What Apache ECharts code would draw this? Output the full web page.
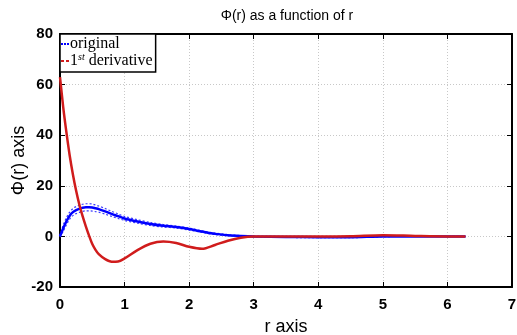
<!DOCTYPE html>
<html>
<head>
<meta charset="utf-8">
<script src="https://cdn.jsdelivr.net/npm/echarts@6/dist/echarts.min.js"></script>
<style>
  html, body { margin: 0; padding: 0; background: #fff; }
  #chart { width: 517px; height: 335px; }
</style>
</head>
<body>
<div id="chart"></div>
<script>
// r samples (x axis)
const rValues = [0, 0.05, 0.1, 0.15, 0.2, 0.25, 0.3, 0.35, 0.4, 0.45, 0.5, 0.55, 0.6, 0.7, 0.8, 0.9, 1.0, 1.2, 1.4, 1.6, 1.8, 2.0, 2.2, 2.4, 2.6, 2.8, 3.0, 3.5, 4.0, 4.5, 5.0, 5.5, 6.0, 6.28];

// Phi(r), the original
const original = [0, 3.2, 6, 8.2, 9.6, 10.4, 10.9, 11.3, 11.5, 11.5, 11.4, 11.1, 10.8, 9.9, 8.9, 8.0, 7.1, 5.9, 4.9, 4.2, 3.7, 2.9, 1.9, 1.0, 0.5, 0.2, 0, -0.2, -0.3, -0.3, 0, 0, 0, 0];
const originalUpper = [0.3, 4.5, 7.4, 9.6, 11, 11.8, 12.3, 12.7, 12.9, 12.9, 12.8, 12.4, 12.0, 11.0, 9.9, 8.9, 7.9, 6.6, 5.5, 4.7, 4.1, 3.3, 2.2, 1.3, 0.7, 0.3, 0.1, 0, 0, 0, 0.1, 0, 0, 0];
const originalLower = [-0.3, 2.0, 4.6, 6.8, 8.2, 9.0, 9.5, 9.9, 10.1, 10.1, 10.0, 9.8, 9.6, 8.8, 7.9, 7.1, 6.3, 5.2, 4.3, 3.7, 3.3, 2.5, 1.6, 0.7, 0.3, 0.1, -0.1, -0.4, -0.5, -0.5, -0.1, 0, 0, 0];

// first derivative
const derivative = [63, 51, 41, 32, 24.5, 18, 12.5, 8, 4, 0.3, -3, -5.3, -7.0, -9.0, -10, -9.9, -8.7, -5.4, -2.9, -2.0, -2.6, -4.1, -4.9, -3.4, -1.7, -0.5, 0, 0, 0, 0.1, 0.5, 0.2, 0, 0];

const xTicks = [0, 1, 2, 3, 4, 5, 6, 7];
const yTicks = [-20, 0, 20, 40, 60, 80];

const pairs = ys => rValues.map((r, i) => [r, ys[i]]);

const chart = echarts.init(document.getElementById('chart'));

const sans = 'Liberation Sans, Arial, sans-serif';
const serif = 'Liberation Serif, Times New Roman, serif';
const labelFont = { color: '#000', fontFamily: sans, fontWeight: 'bold', fontSize: 15 };
const gridLine = { show: true, lineStyle: { color: '#c8c8c8', type: [1, 2], width: 1 } };
const frame = { show: true, onZero: false, lineStyle: { color: '#000', width: 2 } };
const tick = { show: true, inside: true, length: 5, lineStyle: { color: '#000', width: 1 } };

const option = {
  animation: false,
  title: {
    text: 'Φ(r) as a function of r',
    left: 282, top: 4, textAlign: 'center',
    textStyle: { fontFamily: sans, fontWeight: 'normal', fontSize: 14, color: '#000' }
  },
  grid: { left: 60, right: 5, top: 34, bottom: 48, containLabel: false, outerBoundsMode: 'none' },
  legend: {
    data: [
      { name: 'original', icon: 'path://M0,0h2v2h-2z M3,0h2v2h-2z M6,0h2v2h-2z', itemStyle: { color: '#0000ff' } },
      { name: '1st derivative', icon: 'path://M0,0h3v2h-3z M5,0h3v2h-3z', itemStyle: { color: '#d01c1c' } }
    ],
    orient: 'vertical',
    left: 60, top: 34,
    itemWidth: 8, itemHeight: 2, itemGap: 0,
    padding: [2, 3, 2, 1],
    backgroundColor: '#fff',
    borderColor: '#000', borderWidth: 1.5, borderRadius: 0,
    formatter: name => name === 'original' ? '{t|original}' : '{t|1}{s|st}{t| derivative}',
    textStyle: {
      color: '#000',
      padding: [0, 0, 0, -4],
      rich: {
        t: { fontFamily: serif, fontSize: 16, lineHeight: 14, color: '#000' },
        s: { fontFamily: serif, fontSize: 10, fontStyle: 'italic', lineHeight: 14, color: '#000', padding: [0, 0, 8, 0] }
      }
    }
  },
  xAxis: [
    {
      type: 'value', min: xTicks[0], max: xTicks[xTicks.length - 1], interval: 1,
      name: 'r axis', nameLocation: 'middle', nameGap: 31, nameMoveOverlap: false,
      nameTextStyle: { fontFamily: sans, fontSize: 18, color: '#000' },
      axisLine: frame, axisTick: tick, axisLabel: Object.assign({ margin: 10 }, labelFont),
      splitLine: gridLine
    },
    {
      type: 'value', position: 'top', min: xTicks[0], max: xTicks[xTicks.length - 1], interval: 1,
      axisLine: frame, axisTick: tick, axisLabel: { show: false }, splitLine: { show: false }
    }
  ],
  yAxis: [
    {
      type: 'value', min: yTicks[0], max: yTicks[yTicks.length - 1], interval: 20,
      name: 'Φ(r) axis', nameLocation: 'middle', nameGap: 32, nameMoveOverlap: false,
      nameTextStyle: { fontFamily: sans, fontSize: 18, color: '#000' },
      axisLine: frame, axisTick: tick, axisLabel: Object.assign({ margin: 7 }, labelFont),
      splitLine: gridLine
    },
    {
      type: 'value', position: 'right', min: yTicks[0], max: yTicks[yTicks.length - 1], interval: 20,
      axisLine: frame, axisTick: tick, axisLabel: { show: false }, splitLine: { show: false }
    }
  ],
  series: [
    {
      name: 'orig_hi', type: 'line', data: pairs(originalUpper), smooth: 0.3, showSymbol: false,
      lineStyle: { color: '#3a3aff', width: 1.2, type: [2, 2] }
    },
    {
      name: 'orig_lo', type: 'line', data: pairs(originalLower), smooth: 0.3, showSymbol: false,
      lineStyle: { color: '#3a3aff', width: 1.2, type: [2, 2] }
    },
    {
      name: 'original', type: 'line', data: pairs(original), smooth: 0.3, showSymbol: false,
      itemStyle: { color: '#0000ff' },
      lineStyle: { color: '#0000ff', width: 2.5 }
    },
    {
      name: '1st derivative', type: 'line', data: pairs(derivative), smooth: 0.3, showSymbol: false,
      itemStyle: { color: '#d01c1c' },
      lineStyle: { color: '#d01c1c', width: 2.5 }
    }
  ]
};

chart.setOption(option);
</script>
</body>
</html>
